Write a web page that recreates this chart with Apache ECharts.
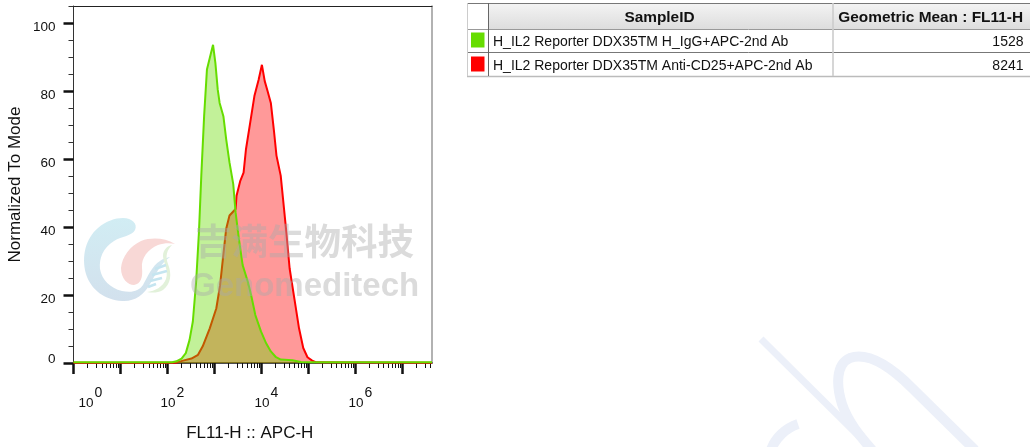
<!DOCTYPE html>
<html><head><meta charset="utf-8">
<style>html,body{margin:0;padding:0;background:#fff}#c{width:1030px;height:447px}</style>
<script src="https://cdn.jsdelivr.net/npm/echarts@6/dist/echarts.min.js"></script>
</head><body><div id="c"></div>
<script>
// log10 of channel value, and normalized-to-mode height
const greenLogX=[0,2.10,2.19,2.30,2.39,2.47,2.54,2.61,2.67,2.72,2.78,2.84,2.90,2.97,3.02,3.07,3.11,3.19,3.25,3.32,3.40,3.45,3.52,3.60,3.71,3.78,3.87,3.99,4.10,4.20,4.31,4.41,4.66,4.84,5.01,7.63];
const greenY=[0.2,0.2,0.5,1.3,2.9,6.8,12.2,23.9,38.5,55.1,72.6,86.3,89.7,93.6,88.2,80.4,76.5,72.6,65.8,59.0,52.6,44.3,36.5,28.8,23.9,20.0,14.1,9.3,5.8,3.4,1.7,1.0,0.8,0.3,0.2,0.2];
const redLogX=[0,2.19,2.33,2.51,2.65,2.75,2.90,3.04,3.12,3.18,3.25,3.32,3.45,3.47,3.55,3.62,3.67,3.76,3.85,3.94,4.01,4.07,4.13,4.20,4.27,4.32,4.41,4.46,4.53,4.60,4.70,4.80,4.89,4.98,5.08,5.17,7.63];
const redY=[0.1,0.1,0.7,1.3,2.4,4.9,10.2,16.1,22.9,30.7,39.5,43.4,45.3,49.2,53.6,56.0,62.8,70.6,78.5,83.3,87.7,82.9,80.0,76.5,67.8,61.0,55.1,48.2,38.5,27.8,19.0,10.2,4.4,1.7,0.7,0.2,0.1];
const xMajorTicks=[0,1,2,3,4,5,6,7];
const xLabelDecades=[0,2,4,6];
const xMinorMultipliers=[2,3,4,5,6,7,8,9];
const yMajorTicks=[0,20,40,60,80,100];
const yMinorTicks=[5,10,15,25,30,35,45,50,55,65,70,75,85,90,95,105];
const sampleIds=['H_IL2 Reporter DDX35TM H_IgG+APC-2nd Ab','H_IL2 Reporter DDX35TM Anti-CD25+APC-2nd Ab'];
const geoMeans=['1528','8241'];
const sampleColors=['#66dd00','#ff0000'];
const tableHeaders=['SampleID','Geometric Mean : FL11-H'];

const XMAX=7.63,YMAX=105,F='"Liberation Sans",Arial,sans-serif';
const xMinor=[];
for(let d=0;d<8;d++)for(const m of xMinorMultipliers){const v=d+Math.log10(m);if(v<=XMAX)xMinor.push(v);}
const zip=(a,b)=>a.map((v,i)=>[v,b[i]]);
const black='#111';

function xAxisBase(o){return Object.assign({type:'value',min:0,max:XMAX,position:'bottom',splitLine:{show:false},axisLabel:{show:false},axisTick:{show:false},axisLine:{show:false}},o);}
function yAxisBase(o){return Object.assign({type:'value',min:0,max:YMAX,position:'left',splitLine:{show:false},axisLabel:{show:false},axisTick:{show:false},axisLine:{show:false}},o);}

let shapeN=0;
function pathEl(d,style,extra){
 const name='deco'+(shapeN++);
 echarts.graphic.registerShape(name,echarts.graphic.extendPath(d,{}));
 return Object.assign({type:name,shape:{},style},extra||{});
}

// table
const T={l:467,c1:488,c2:833,r:1030,t:3,h:29,r1:52,r2:76};
const g=[];
g.push({type:'rect',shape:{x:T.c1,y:T.t,width:T.r-T.c1,height:T.h-T.t},style:{fill:new echarts.graphic.LinearGradient(0,0,0,1,[{offset:0,color:'#f4f4f4'},{offset:1,color:'#dddddd'}])}});
const ln=(x1,y1,x2,y2,c,w)=>g.push({type:'line',shape:{x1,y1,x2,y2},style:{stroke:c,lineWidth:w||1}});
ln(T.l,T.t+.5,T.r,T.t+.5,'#777',1.2);
ln(T.l,T.h+.5,T.r,T.h+.5,'#999');ln(T.l,T.r1+.5,T.r,T.r1+.5,'#777');ln(T.l,T.r2+.5,T.r,T.r2+.5,'#bbb',1.3);
ln(T.l+.5,T.t,T.l+.5,T.r2,'#ccc');
ln(T.c1+.5,T.t,T.c1+.5,T.r2,'#666');ln(T.c2,T.t,T.c2,T.r2,'#ccc',1.6);
const tx=(x,y,t,o)=>g.push({type:'text',x,y,style:Object.assign({text:t,font:'14px '+F,fill:'#111',align:'left',verticalAlign:'middle'},o||{})});
tx(659.5,18,tableHeaders[0],{font:'bold 15.4px '+F,align:'center'});
tx(1023,18,tableHeaders[1],{font:'bold 15.4px '+F,align:'right'});
[42.5,66.5].forEach((y,i)=>{
 g.push({type:'rect',shape:{x:471,y:y-10,width:13.5,height:15},style:{fill:sampleColors[i]}});
 tx(493,y,sampleIds[i]);
 tx(1023.5,y,geoMeans[i],{align:'right'});
});

// faint background strokes
const faint='#ecf0f9';
[['M761,339 L875,452',7],['M975,450 L912,388 C890,366 868,352 850,358 C836,364 836,385 842,404 C848,422 860,436 872,450',10],['M798,424 C786,428 775,438 771,450',10]].forEach(p=>{
 g.push(pathEl(p[0],{fill:null,stroke:faint,lineWidth:p[1]},{z:-1}));
});

// watermark
const wz={z:20};
g.push(pathEl('M123,218 C132,218 138,224 135,230 C132,236 122,236 114,241 C103,248 99,258 100,269 C102,280 110,288 122,291 C132,293 139,291 143,285 C148,276 152,266 160,261 C164,258 166,258 170,257 C160,264 156,274 150,284 C144,295 134,302 122,301 C105,300 91,290 86,274 C81,256 86,238 98,228 C106,221 115,218 123,218 Z',{fill:new echarts.graphic.LinearGradient(0,0,0,1,[{offset:0,color:'#cfecf3'},{offset:1,color:'#d0dfec'}]),opacity:.95},wz));
g.push(pathEl('M175,244 C165,238 152,237 141,241 C130,246 122,257 121,268 C121,279 128,285 134,285 C141,284 143,277 142,268 C141,258 148,249 158,245 C164,243 170,243 175,244 Z',{fill:'#f8d8d6'},wz));
g.push(pathEl('M172,245 C167,250 165,256 168,264 C172,274 171,284 163,290 C158,293 152,293 147,292 C155,291 163,287 166,279 C169,270 163,262 163,256 C163,250 167,246 172,245 Z',{fill:'#e2f1da'},wz));
[[155,269,166,265],[152,275,167,271],[150,281,162,278],[148,287,156,284]].forEach(s=>g.push(Object.assign({type:'line',shape:{x1:s[0],y1:s[1],x2:s[2],y2:s[3]},style:{stroke:'#c5e5f0',lineWidth:2.5}},wz)));
g.push(Object.assign({type:'text',x:195,y:241,style:{text:'吉满生物科技',font:'bold 36.5px "Noto Sans CJK SC"',fill:'rgba(170,170,170,.42)',verticalAlign:'middle'}},wz));
g.push(Object.assign({type:'text',x:190,y:287,style:{text:'Genomeditech',font:'bold 33px "Liberation Sans"',fill:'rgba(170,170,170,.42)',verticalAlign:'middle'}},wz));

const chart=echarts.init(document.getElementById('c'),null,{renderer:'canvas'});
chart.setOption({
 animation:false,
 backgroundColor:'#fff',
 grid:{left:73.5,right:598,top:6,bottom:81,show:false},
 xAxis:[
  xAxisBase({
   name:'FL11-H :: APC-H',nameLocation:'middle',nameGap:62,nameTextStyle:{fontFamily:F,fontSize:17,color:black,padding:[0,6,0,0]},
   axisLine:{show:true,onZero:false,lineStyle:{color:black,width:1.5}},
   axisTick:{show:true,customValues:xMajorTicks,length:11,lineStyle:{color:black,width:2.5}},
   axisLabel:{show:true,customValues:xLabelDecades,margin:23,hideOverlap:false,showMinLabel:true,showMaxLabel:true,
    formatter:v=>v===0?'{p0|}{b|10}{s|0}':'{p|}{b|10}{s|'+v+'}',
    rich:{p0:{width:34},p:{width:10},b:{fontFamily:F,fontSize:13.5,color:black,verticalAlign:'bottom',lineHeight:24},s:{fontFamily:F,fontSize:14,color:black,verticalAlign:'top',lineHeight:15,padding:[0,0,0,1]}}}
  }),
  xAxisBase({axisTick:{show:true,customValues:xMinor,length:5,lineStyle:{color:black,width:1}}}),
  xAxisBase({position:'top',axisLine:{show:true,onZero:false,lineStyle:{color:'#222',width:1}}})
 ],
 yAxis:[
  yAxisBase({
   name:'Normalized To Mode',nameLocation:'middle',nameGap:50,nameRotate:90,nameTextStyle:{fontFamily:F,fontSize:17,color:black},
   axisLine:{show:true,onZero:false,lineStyle:{color:'#333',width:1}},
   axisTick:{show:true,customValues:yMajorTicks,length:10,lineStyle:{color:black,width:2.5}},
   axisLabel:{show:true,customValues:yMajorTicks,margin:18,hideOverlap:false,showMinLabel:true,showMaxLabel:true,
    formatter:v=>v===0?'{z|0}':'{a|'+v+'}',
    rich:{a:{fontFamily:F,fontSize:13.5,color:black,padding:[8,0,0,0]},z:{fontFamily:F,fontSize:13.5,color:black,padding:[0,0,8,0]}}}
  }),
  yAxisBase({axisTick:{show:true,customValues:yMinorTicks,length:5,lineStyle:{color:'#333',width:1}}}),
  yAxisBase({position:'right',axisLine:{show:true,onZero:false,lineStyle:{color:'#999',width:1.5}}})
 ],
 series:[
  {name:sampleIds[1],type:'line',xAxisIndex:0,yAxisIndex:0,data:zip(redLogX,redY),showSymbol:false,symbol:'none',z:2,
   lineStyle:{color:sampleColors[1],width:2},itemStyle:{color:sampleColors[1]},areaStyle:{color:sampleColors[1],opacity:.4}},
  {name:sampleIds[0],type:'line',xAxisIndex:0,yAxisIndex:0,data:zip(greenLogX,greenY),showSymbol:false,symbol:'none',z:3,
   lineStyle:{color:sampleColors[0],width:2},itemStyle:{color:sampleColors[0]},areaStyle:{color:sampleColors[0],opacity:.4}}
 ],
 graphic:{elements:g}
});
</script></body></html>
